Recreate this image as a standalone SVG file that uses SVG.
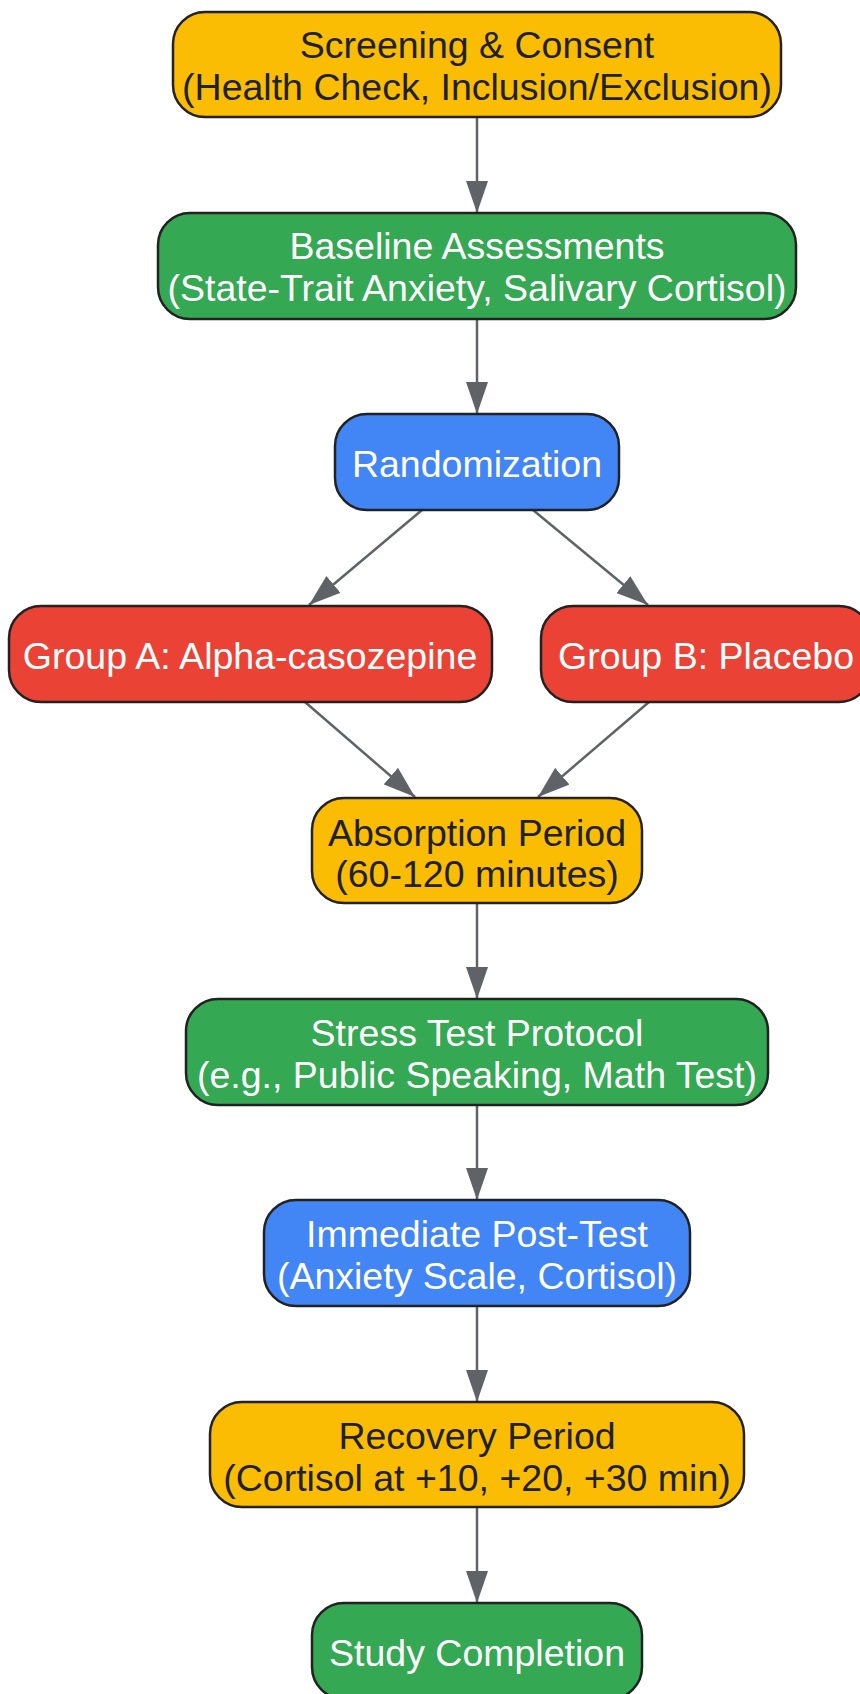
<svg xmlns="http://www.w3.org/2000/svg" width="860" height="1694" viewBox="0 0 860 1694">
<defs>
<marker id="arr" markerUnits="userSpaceOnUse" markerWidth="32" markerHeight="22" refX="32" refY="11" orient="auto">
<path d="M0,0 L32,11 L0,22 z" fill="#5f6368"/>
</marker>
<style>
.n{stroke:#222;stroke-width:2.5}
.y{fill:#FBBC04}.g{fill:#34A853}.b{fill:#4285F4}.r{fill:#EA4335}
text{font-family:"Liberation Sans",Arial,sans-serif;font-size:37.5px;text-anchor:middle}
.dk{fill:#202124}.wt{fill:#ffffff}
.e{stroke:#5f6368;stroke-width:2.5;fill:none;marker-end:url(#arr)}
</style>
</defs>
<rect width="860" height="1694" fill="#ffffff"/>
<g id="edges">
<line class="e" x1="477" y1="117" x2="477" y2="213"/>
<line class="e" x1="477" y1="319" x2="477" y2="414"/>
<line class="e" x1="422" y1="510" x2="309" y2="605"/>
<line class="e" x1="533" y1="510" x2="648" y2="605"/>
<line class="e" x1="305" y1="702" x2="415" y2="797"/>
<line class="e" x1="649" y1="702" x2="538" y2="797"/>
<line class="e" x1="477" y1="903" x2="477" y2="999"/>
<line class="e" x1="477" y1="1106" x2="477" y2="1200"/>
<line class="e" x1="477" y1="1306" x2="477" y2="1402"/>
<line class="e" x1="477" y1="1507" x2="477" y2="1603"/>
</g>
<g id="screening">
<rect class="n y" x="173" y="12" width="608" height="105" rx="32"/>
<text class="dk" x="477" y="58">Screening &amp; Consent</text>
<text class="dk" x="477" y="100">(Health Check, Inclusion/Exclusion)</text>
</g>
<g id="baseline">
<rect class="n g" x="158" y="213" width="638" height="106" rx="32"/>
<text class="wt" x="477" y="259">Baseline Assessments</text>
<text class="wt" x="477" y="301">(State-Trait Anxiety, Salivary Cortisol)</text>
</g>
<g id="randomization">
<rect class="n b" x="335" y="414" width="284" height="96" rx="32"/>
<text class="wt" x="477" y="477">Randomization</text>
</g>
<g id="groupA">
<rect class="n r" x="9" y="606" width="483" height="96" rx="32"/>
<text class="wt" x="250" y="669">Group A: Alpha-casozepine</text>
</g>
<g id="groupB">
<rect class="n r" x="541" y="606" width="330" height="96" rx="32"/>
<text class="wt" x="706" y="669">Group B: Placebo</text>
</g>
<g id="absorption">
<rect class="n y" x="312" y="798" width="330" height="105" rx="32"/>
<text class="dk" x="477" y="846">Absorption Period</text>
<text class="dk" x="477" y="887">(60-120 minutes)</text>
</g>
<g id="stress">
<rect class="n g" x="186" y="999" width="582" height="106" rx="32"/>
<text class="wt" x="477" y="1046">Stress Test Protocol</text>
<text class="wt" x="477" y="1088">(e.g., Public Speaking, Math Test)</text>
</g>
<g id="posttest">
<rect class="n b" x="264" y="1200" width="426" height="106" rx="32"/>
<text class="wt" x="477" y="1247">Immediate Post-Test</text>
<text class="wt" x="477" y="1289">(Anxiety Scale, Cortisol)</text>
</g>
<g id="recovery">
<rect class="n y" x="210" y="1402" width="534" height="105" rx="32"/>
<text class="dk" x="477" y="1449">Recovery Period</text>
<text class="dk" x="477" y="1491">(Cortisol at +10, +20, +30 min)</text>
</g>
<g id="completion">
<rect class="n g" x="312" y="1603" width="330" height="96" rx="32"/>
<text class="wt" x="477" y="1666">Study Completion</text>
</g>
</svg>
